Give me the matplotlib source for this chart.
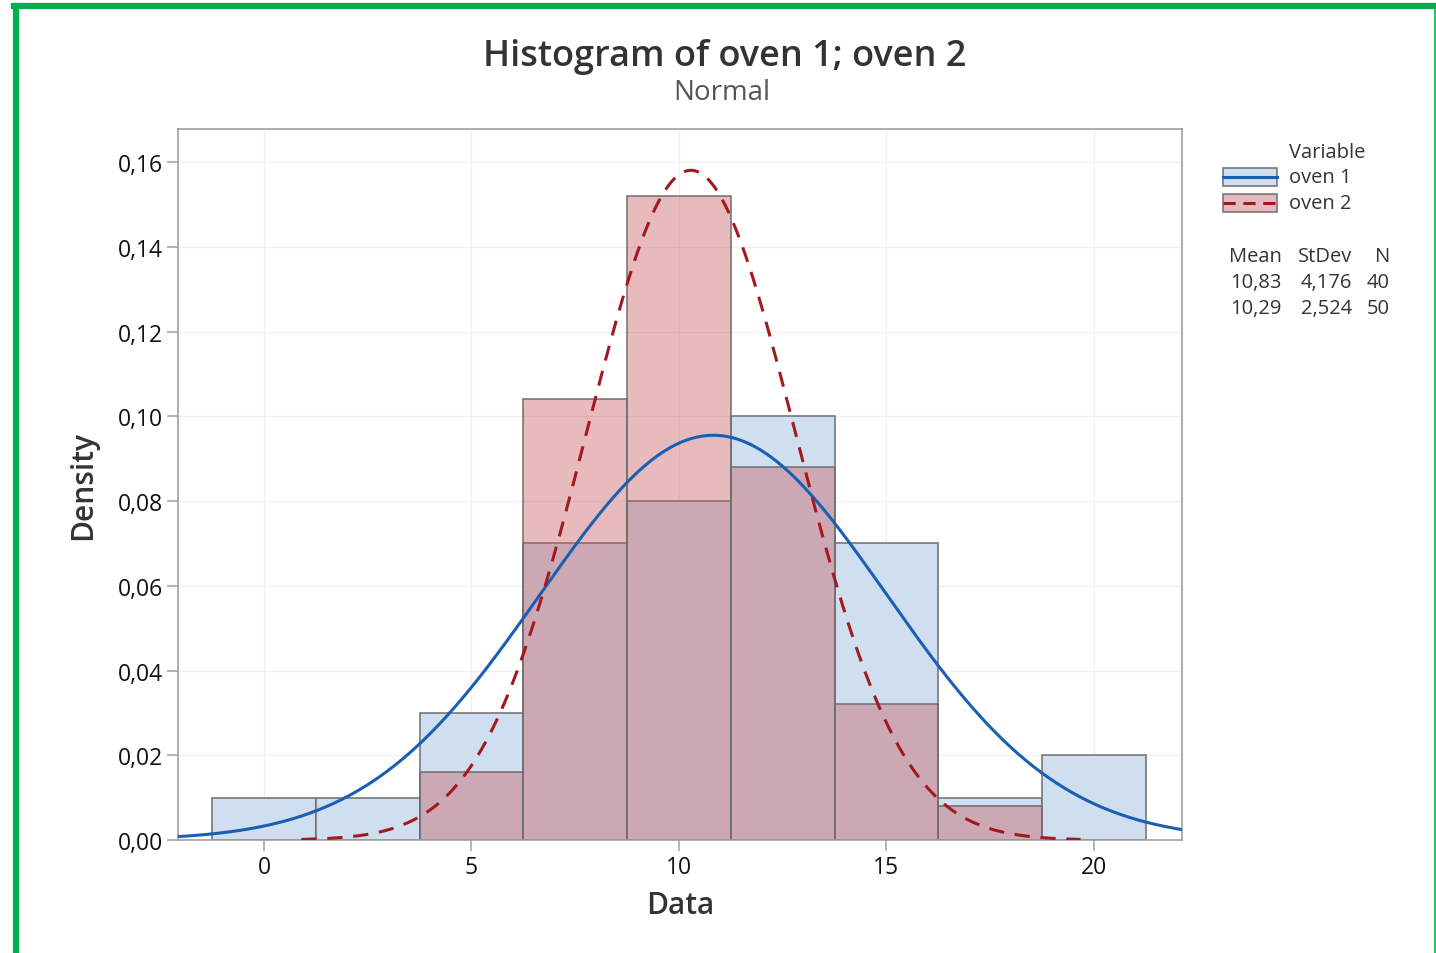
import numpy as np
import matplotlib.pyplot as plt
from matplotlib.patches import Rectangle
from matplotlib.lines import Line2D
from matplotlib.ticker import FuncFormatter

# Bin layout (width 2.5, centred on multiples of 2.5)
bin_centers = [0, 2.5, 5, 7.5, 10, 12.5, 15, 17.5, 20]
bin_width = 2.5

# Counts per bin
oven1_counts = [1, 1, 3, 7, 8, 10, 7, 1, 2]
oven2_counts = [0, 0, 2, 13, 19, 11, 4, 1, 0]

# Summary statistics
names = ["oven 1", "oven 2"]
means = [10.83, 10.29]
stdevs = [4.176, 2.524]
ns = [40, 50]

blue_fill = "#d0dff0"
blue_line = "#1a5fb4"
red_fill = (197 / 255, 87 / 255, 90 / 255, 0.4)
red_line = "#a31a1e"
edge = "#6e6e6e"

plt.rcParams['font.family'] = ['Open Sans', 'DejaVu Sans']

fig = plt.figure(figsize=(14.36, 9.54), dpi=100)
ax = fig.add_axes([0.124, 0.1184, 0.699, 0.7453])


def normal_pdf(x, mu, sd):
    return np.exp(-0.5 * ((x - mu) / sd) ** 2) / (sd * np.sqrt(2 * np.pi))


# histograms as densities
for counts, n, fill in [(oven1_counts, ns[0], blue_fill), (oven2_counts, ns[1], red_fill)]:
    dens = [c / (n * bin_width) for c in counts]
    for xc, d in zip(bin_centers, dens):
        if d > 0:
            ax.bar(xc, d, width=bin_width, color=fill, edgecolor=edge, linewidth=1.1, zorder=2)

xmin, xmax = -2.07, 22.12

# fitted normal curves
x1 = np.linspace(xmin, xmax, 400)
ax.plot(x1, normal_pdf(x1, means[0], stdevs[0]), color=blue_line, lw=2.2, zorder=4)
x2 = np.linspace(means[1] - 3.72 * stdevs[1], means[1] + 3.72 * stdevs[1], 400)
ax.plot(x2, normal_pdf(x2, means[1], stdevs[1]), color=red_line, lw=2.2,
        dashes=(5, 3.5), zorder=5)

ax.set_xlim(xmin, xmax)
ax.set_ylim(0, 0.1678)
ax.set_xticks([0, 5, 10, 15, 20])
ax.set_yticks(np.arange(0, 0.161, 0.02))
ax.yaxis.set_major_formatter(FuncFormatter(lambda v, p: f"{v:.2f}".replace(".", ",")))
ax.grid(True, color="#f0f0f0", lw=0.9, zorder=0)
ax.set_axisbelow(True)
for s in ax.spines.values():
    s.set_color("#a0a0a0")
    s.set_linewidth(1.2)
ax.tick_params(axis='both', direction='out', length=8, width=1.1, color="#a0a0a0",
               labelsize=16.5, labelcolor="#111111", pad=3)

ax.set_xlabel("Data", fontsize=21.5, fontweight='semibold', color="#333333", labelpad=8)
ax.set_ylabel("Density", fontsize=21.5, fontweight='semibold', color="#333333", labelpad=14)

fig.text(0.505, 0.940, "Histogram of oven 1; oven 2", ha='center', va='center',
         fontsize=26, fontweight='semibold', color="#333333")
fig.text(0.503, 0.903, "Normal", ha='center', va='center', fontsize=20, color="#555555")

# legend block
W, H = 1436, 954


def fx(px):
    return px / W


def fy(py):
    return 1 - py / H


fs = 14.5
fig.text(fx(1289), fy(153), "Variable", fontsize=fs, va='center', ha='left', color="#333333")
for i, (fill, lc, ls) in enumerate([(blue_fill, blue_line, '-'), (red_fill, red_line, '--')]):
    yc = 178 + i * 26
    fig.add_artist(Rectangle((fx(1223), fy(yc + 9)), fx(54), 18 / H, transform=fig.transFigure,
                             facecolor=fill, edgecolor=edge, lw=1.1))
    fig.add_artist(Line2D([fx(1223), fx(1277)], [fy(yc), fy(yc)], transform=fig.transFigure,
                          color=lc, lw=2.2, dashes=(4, 2.5) if ls == '--' else (None, None)))
    fig.text(fx(1289), fy(yc), names[i], fontsize=fs, va='center', ha='left', color="#333333")

fig.text(fx(1282), fy(257), "Mean", fontsize=fs, va='center', ha='right', color="#333333")
fig.text(fx(1352), fy(257), "StDev", fontsize=fs, va='center', ha='right', color="#333333")
fig.text(fx(1390), fy(257), "N", fontsize=fs, va='center', ha='right', color="#333333")
for i in range(2):
    yc = 283 + i * 26
    fig.text(fx(1282), fy(yc), f"{means[i]:.2f}".replace(".", ","), fontsize=fs,
             va='center', ha='right', color="#333333")
    fig.text(fx(1352), fy(yc), f"{stdevs[i]:.3f}".replace(".", ","), fontsize=fs,
             va='center', ha='right', color="#333333")
    fig.text(fx(1390), fy(yc), str(ns[i]), fontsize=fs, va='center', ha='right', color="#333333")

# green frame on the left / top / right
fig.add_artist(Line2D([fx(16), fx(16)], [0, fy(7)], transform=fig.transFigure, color="#00b050", lw=4.5))
fig.add_artist(Line2D([fx(14), 1], [fy(7), fy(7)], transform=fig.transFigure, color="#00b050", lw=4.5))
fig.add_artist(Line2D([fx(1434.5), fx(1434.5)], [0, fy(7)], transform=fig.transFigure, color="#00b050", lw=1.2))

fig.savefig("out.png", dpi=100)
